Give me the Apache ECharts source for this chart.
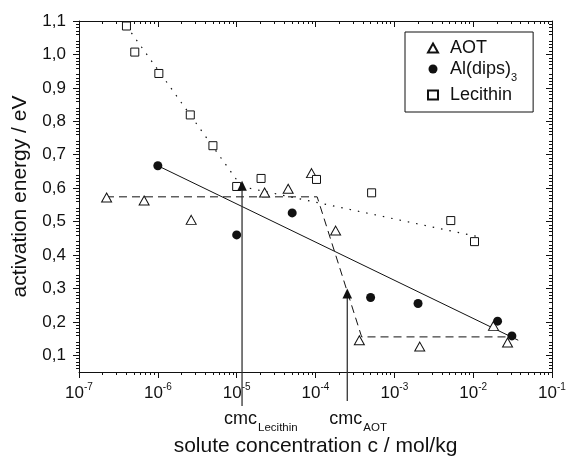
<!DOCTYPE html>
<html>
<head>
<meta charset="utf-8">
<script src="https://cdn.jsdelivr.net/npm/echarts@6/dist/echarts.min.js"></script>
<style>
  html, body { margin: 0; padding: 0; background: #fff; }
  #main { width: 568px; height: 458px; }
</style>
</head>
<body>
<div id="main"></div>
<script>
// values (x in mol/kg, y in eV)
var aotPoints = [[2.24e-7, 0.572], [6.7e-7, 0.563], [2.65e-6, 0.505], [2.26e-5, 0.587], [4.5e-5, 0.598],
  [8.9e-5, 0.645], [1.8e-4, 0.473], [3.6e-4, 0.145], [2.1e-3, 0.126], [1.81e-2, 0.188], [2.73e-2, 0.138]];
var alPoints = [[1.0e-6, 0.667], [1.0e-5, 0.46], [5.06e-5, 0.526], [5.0e-4, 0.273], [2.0e-3, 0.255],
  [2.04e-2, 0.202], [3.1e-2, 0.158]];
var lecPoints = [[4.0e-7, 1.085], [5.1e-7, 1.007], [1.03e-6, 0.943], [2.58e-6, 0.819], [5.0e-6, 0.727],
  [1.0e-5, 0.605], [2.04e-5, 0.629], [1.03e-4, 0.626], [5.15e-4, 0.586], [5.2e-3, 0.503], [1.04e-2, 0.44]];

// fit lines
var aotFit = [[2.2e-7, 0.574], [1.05e-4, 0.574], [3.85e-4, 0.155], [2.8e-2, 0.155]];
var alFit = [[1.0e-6, 0.667], [3.73e-2, 0.145]];
var lecFitSteep = [[4.0e-7, 1.085], [1.15e-5, 0.605]];
var lecFitFlat = [[1.15e-5, 0.605], [1.2e-2, 0.454]];

// cmc arrows: [x, arrow tip, line start below axis]
var cmcNames = ['Lecithin', 'AOT'];
var cmcArrows = [[1.17e-5, 0.622, -0.052], [2.53e-4, 0.30, -0.037]];

var yTicks = [0.1, 0.2, 0.3, 0.4, 0.5, 0.6, 0.7, 0.8, 0.9, 1.0, 1.1];
var xMin = 1e-7, xMax = 1e-1;
var yMin = 0.05, yMax = 1.1;

var font = 'Liberation Sans, Arial, sans-serif';
var ink = '#111';

var chart = echarts.init(document.getElementById('main'));

function expLabel(v) {
  var e = Math.round(Math.log10(v));
  return '{b|10}{s|' + e + '}';
}

var tickLine = { color: ink, width: 1 };

var baseX = {
  type: 'log', logBase: 10, min: xMin, max: xMax,
  axisLine: { show: true, lineStyle: { color: ink, width: 1 } },
  splitLine: { show: false },
  minorSplitLine: { show: false }
};
var baseY = {
  type: 'value', min: yMin, max: yMax, interval: 0.05,
  axisLine: { show: true, lineStyle: { color: ink, width: 1 } },
  splitLine: { show: false },
  minorSplitLine: { show: false }
};

var option = {
  animation: false,
  backgroundColor: '#fff',
  textStyle: { fontFamily: font, color: ink },
  grid: { left: 79, top: 21, right: 16, bottom: 86, containLabel: false, outerBoundsMode: 'none' },
  legend: {
    orient: 'vertical',
    left: 405, top: 32,
    data: ['AOT', 'Al(dips)3', 'Lecithin'],
    borderColor: ink, borderWidth: 1,
    padding: [7, 16, 8, 22],
    itemWidth: 10, itemHeight: 9, itemGap: 3,
    formatter: function (name) {
      return name === 'Al(dips)3' ? 'Al(dips){sub|3}' : name;
    },
    textStyle: {
      fontSize: 18, fontFamily: font, color: ink, lineHeight: 18, padding: [0, 0, 0, 7],
      rich: { sub: { fontSize: 11, fontFamily: font, color: ink, lineHeight: 18, verticalAlign: 'top', padding: [12, 0, 0, 0] } }
    }
  },
  xAxis: [
    Object.assign({}, baseX, {
      position: 'bottom',
      name: 'solute concentration c / mol/kg',
      nameLocation: 'middle', nameGap: 64,
      nameTextStyle: { fontSize: 21, fontFamily: font, color: ink },
      axisTick: { show: true, inside: false, length: 6, lineStyle: tickLine },
      minorTick: { show: true, splitNumber: 9, length: 3, lineStyle: tickLine },
      axisLabel: {
        margin: 10, formatter: expLabel,
        rich: {
          b: { fontSize: 17, fontFamily: font, color: ink, lineHeight: 20, verticalAlign: 'top', padding: [3, 0, 0, 0] },
          s: { fontSize: 10, fontFamily: font, color: ink, lineHeight: 20, verticalAlign: 'top' }
        }
      }
    }),
    Object.assign({}, baseX, {
      position: 'top',
      // ticks point down into the plot
      axisTick: { show: true, inside: false, length: -6, lineStyle: tickLine },
      minorTick: { show: true, splitNumber: 9, length: -3, lineStyle: tickLine },
      axisLabel: { show: false }
    })
  ],
  yAxis: [
    Object.assign({}, baseY, {
      position: 'left',
      name: 'activation energy / eV',
      nameLocation: 'middle', nameGap: 48, nameRotate: 90,
      nameTextStyle: { fontSize: 21, fontFamily: font, color: ink },
      axisTick: { show: true, inside: false, length: 6, customValues: yTicks, lineStyle: tickLine },
      minorTick: { show: true, splitNumber: 5, length: 3, lineStyle: tickLine },
      axisLabel: {
        margin: 13, fontSize: 17, fontFamily: font, color: ink,
        customValues: yTicks,
        formatter: function (v) { return v.toFixed(1).replace('.', ','); }
      }
    }),
    Object.assign({}, baseY, {
      position: 'right',
      axisTick: { show: true, inside: true, length: 6, customValues: yTicks, lineStyle: tickLine },
      minorTick: { show: true, splitNumber: 5, length: 3, lineStyle: tickLine },
      axisLabel: { show: false }
    })
  ],
  series: [
    {
      name: 'Lecithin fit', type: 'line', data: lecFitSteep, symbol: 'none', silent: true,
      lineStyle: { color: ink, width: 1.2, type: [1.5, 7] }, z: 1
    },
    {
      name: 'Lecithin fit 2', type: 'line', data: lecFitFlat, symbol: 'none', silent: true,
      lineStyle: { color: ink, width: 1.2, type: [1.5, 7] }, z: 1
    },
    {
      name: 'AOT fit', type: 'line', data: aotFit, symbol: 'none', silent: true,
      lineStyle: { color: ink, width: 1, type: [8, 5] }, z: 1
    },
    {
      name: 'Al fit', type: 'line', data: alFit, symbol: 'none', silent: true,
      lineStyle: { color: ink, width: 1 }, z: 1
    },
    {
      name: 'AOT', type: 'scatter', data: aotPoints,
      symbol: 'triangle', symbolSize: [10, 9],
      itemStyle: { color: '#fff', borderColor: ink, borderWidth: 1, opacity: 1 }, z: 3
    },
    {
      name: 'Al(dips)3', type: 'scatter', data: alPoints,
      symbol: 'circle', symbolSize: 9,
      itemStyle: { color: ink, borderColor: ink, borderWidth: 0, opacity: 1 }, z: 3
    },
    {
      name: 'Lecithin', type: 'scatter', data: lecPoints,
      symbol: 'rect', symbolSize: 8,
      itemStyle: { color: '#fff', borderColor: ink, borderWidth: 1, opacity: 1 }, z: 3
    },
    {
      name: 'cmc', type: 'custom', data: cmcArrows, clip: false, silent: true, z: 5,
      encode: { x: 0, y: 1 },
      renderItem: function (params, api) {
        var x = api.value(0);
        var tip = api.coord([x, api.value(1)]);
        var foot = api.coord([x, api.value(2)]);
        var axisY = api.coord([x, yMin])[1];
        return {
          type: 'group',
          children: [
            {
              type: 'line',
              shape: { x1: foot[0], y1: foot[1], x2: tip[0], y2: tip[1] + 8 },
              style: { stroke: '#333', lineWidth: 1.3 }
            },
            {
              type: 'polygon',
              shape: { points: [[tip[0], tip[1]], [tip[0] - 4.8, tip[1] + 10], [tip[0] + 4.8, tip[1] + 10]] },
              style: { fill: ink }
            },
            {
              type: 'text',
              style: {
                x: tip[0] - 18, y: axisY + 37,
                text: '{m|cmc}{s|' + cmcNames[params.dataIndex] + '}',
                align: 'left', verticalAlign: 'top',
                rich: {
                  m: { fontSize: 18, fontFamily: font, fill: ink, lineHeight: 20 },
                  s: { fontSize: 11.5, fontFamily: font, fill: ink, lineHeight: 20, verticalAlign: 'top', padding: [13, 0, 0, 1] }
                }
              }
            }
          ]
        };
      }
    }
  ]
};

chart.setOption(option);
</script>
</body>
</html>
